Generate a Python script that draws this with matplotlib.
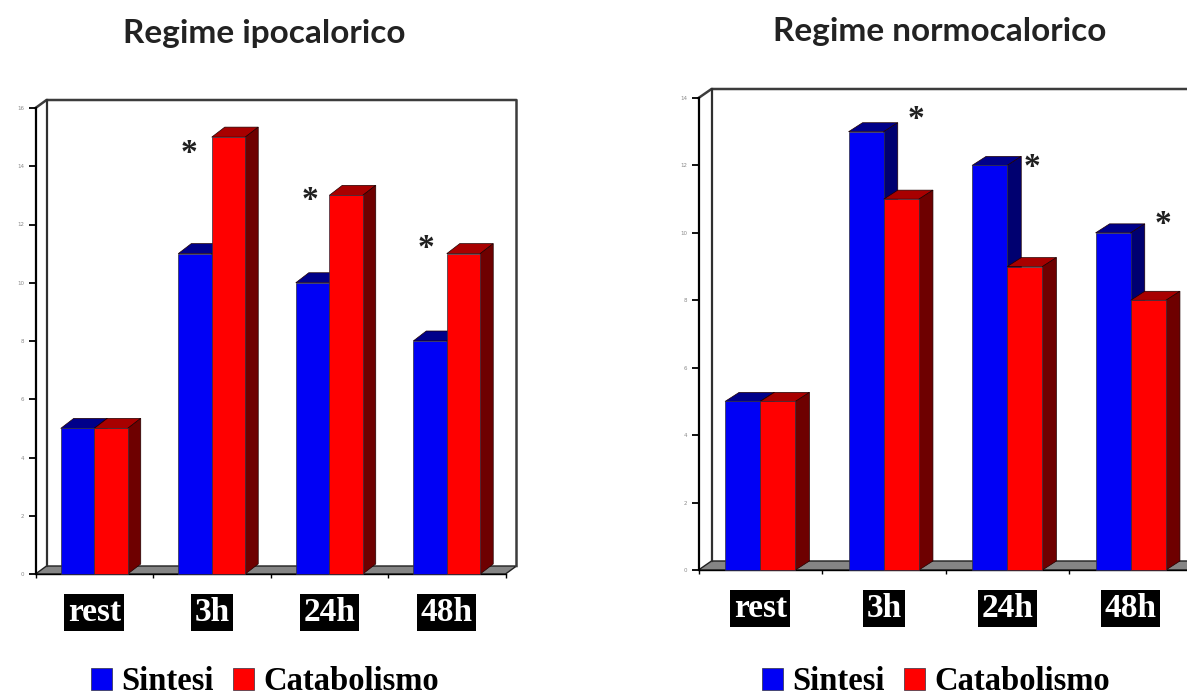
import matplotlib
matplotlib.use("Agg")
import matplotlib.pyplot as plt
from matplotlib.patches import Polygon

W, H = 1187, 700

# Values
categories = ["rest", "3h", "24h", "48h"]
ipo_sintesi = [5, 11, 10, 8]
ipo_catabolismo = [5, 15, 13, 11]
normo_sintesi = [5, 13, 12, 10]
normo_catabolismo = [5, 11, 9, 8]
ipo_ticks = [0, 2, 4, 6, 8, 10, 12, 14, 16]
normo_ticks = [0, 2, 4, 6, 8, 10, 12, 14]

BLUE = ("#0000f5", "#00008a", "#000070")
RED = ("#ff0000", "#a80000", "#6e0000")
SERIF = "Liberation Serif"


def add_bars(ax, x, values, width, depth_x, depth_y, cols, label):
    # front face through bar(), top and side faces from the same values
    for xi, v in zip(x, values):
        left, right = xi, xi + width
        ax.add_patch(Polygon([(left, v), (right, v), (right + depth_x, v + depth_y), (left + depth_x, v + depth_y)],
                             facecolor=cols[1], edgecolor="#200000", linewidth=0.5, zorder=3, clip_on=False))
        ax.add_patch(Polygon([(right, 0), (right + depth_x, depth_y), (right + depth_x, v + depth_y), (right, v)],
                             facecolor=cols[2], edgecolor="#200000", linewidth=0.5, zorder=3, clip_on=False))
        ax.bar(xi, v, width, align="edge", color=cols[0], edgecolor="#303040", linewidth=0.5,
               zorder=3, label=label if xi == x[0] else None, clip_on=False)


def draw_panel(box, ticks, sintesi, catabolismo, wall, bar_depth, stars, legend_anchor):
    x0, x1, y0, y1 = box
    ax = fig.add_axes([x0 / W, 1 - y0 / H, (x1 - x0) / W, (y0 - y1) / H])
    top = ticks[-1]
    ax.set_xlim(0, len(categories))
    ax.set_ylim(0, top)
    ax.patch.set_alpha(0)
    px_x = len(categories) / (x1 - x0)
    px_y = top / (y0 - y1)

    # walls and floor
    wx, wy = wall[0] * px_x, wall[1] * px_y
    n = len(categories)
    ax.add_patch(Polygon([(0, 0), (n, 0), (n + wx, wy), (wx, wy)], facecolor="#858585",
                         edgecolor="#202020", linewidth=1.0, zorder=1, clip_on=False))
    ax.plot([0, wx, n + wx, n + wx], [top, top + wy, top + wy, wy], color="#3c3c3c", lw=1.8, zorder=1, clip_on=False)
    ax.plot([wx, wx], [wy, top + wy], color="#303030", lw=1.6, zorder=1, clip_on=False)

    # bars
    w = 0.285
    dx, dy = bar_depth[0] * px_x, bar_depth[1] * px_y
    centers = [i + 0.5 for i in range(n)]
    add_bars(ax, [c - w for c in centers], sintesi, w, dx, dy, BLUE, "Sintesi")
    add_bars(ax, centers, catabolismo, w, dx, dy, RED, "Catabolismo")

    # axes
    for s in ("top", "right"):
        ax.spines[s].set_visible(False)
    ax.spines["left"].set_linewidth(1.6)
    ax.spines["bottom"].set_linewidth(1.0)
    ax.spines["bottom"].set_zorder(2)
    ax.set_yticks(ticks, [str(t) for t in ticks], fontsize=4, color="#8a8a8a")
    ax.tick_params(axis="y", length=5, width=1.3, pad=3)
    ax.set_xticks(range(n + 1), [""] * (n + 1))
    ax.tick_params(axis="x", which="major", length=3, width=1.0)

    # category labels on black boxes
    ax.set_xticks(centers, categories, minor=True)
    ax.tick_params(axis="x", which="minor", length=0, pad=16.5)
    for lab in ax.get_xticklabels(minor=True):
        lab.set(family=SERIF, fontweight="bold", fontsize=24, color="white")
        lab.set_bbox(dict(facecolor="black", edgecolor="none", pad=2.5))

    for sx, sy in stars:
        ax.text(sx, sy, "*", family=SERIF, fontweight="bold", fontsize=24, color="#202020",
                ha="center", va="center", zorder=5)

    ax.legend(loc="center", bbox_to_anchor=(legend_anchor[0] / W, 1 - legend_anchor[1] / H),
              bbox_transform=fig.transFigure, ncol=2, frameon=False, handlelength=0.64, handleheight=0.64,
              handletextpad=0.28, columnspacing=0.6, borderpad=0,
              prop=dict(family=SERIF, weight="bold", size=23.5))
    return ax


fig = plt.figure(figsize=(W / 100, H / 100), dpi=100, facecolor="white")

draw_panel((35.5, 505.5, 574, 108), ipo_ticks, ipo_sintesi, ipo_catabolismo, (11, 8), (13, 10),
           [(1.31, 14.45), (2.34, 12.82), (3.32, 11.16)], (265, 682))
draw_panel((698.5, 1192.5, 570, 98), normo_ticks, normo_sintesi, normo_catabolismo, (13, 9), (14, 9),
           [(1.757, 13.35), (2.70, 11.95), (3.76, 10.25)], (936, 682))

fig.text(264 / W, 1 - 34 / H, "Regime ipocalorico", family="Lato", fontweight="bold", fontsize=24,
         color="#222222", ha="center", va="center")
fig.text(940 / W, 1 - 32 / H, "Regime normocalorico", family="Lato", fontweight="bold", fontsize=24,
         color="#222222", ha="center", va="center")

fig.savefig("out.png", dpi=100)
